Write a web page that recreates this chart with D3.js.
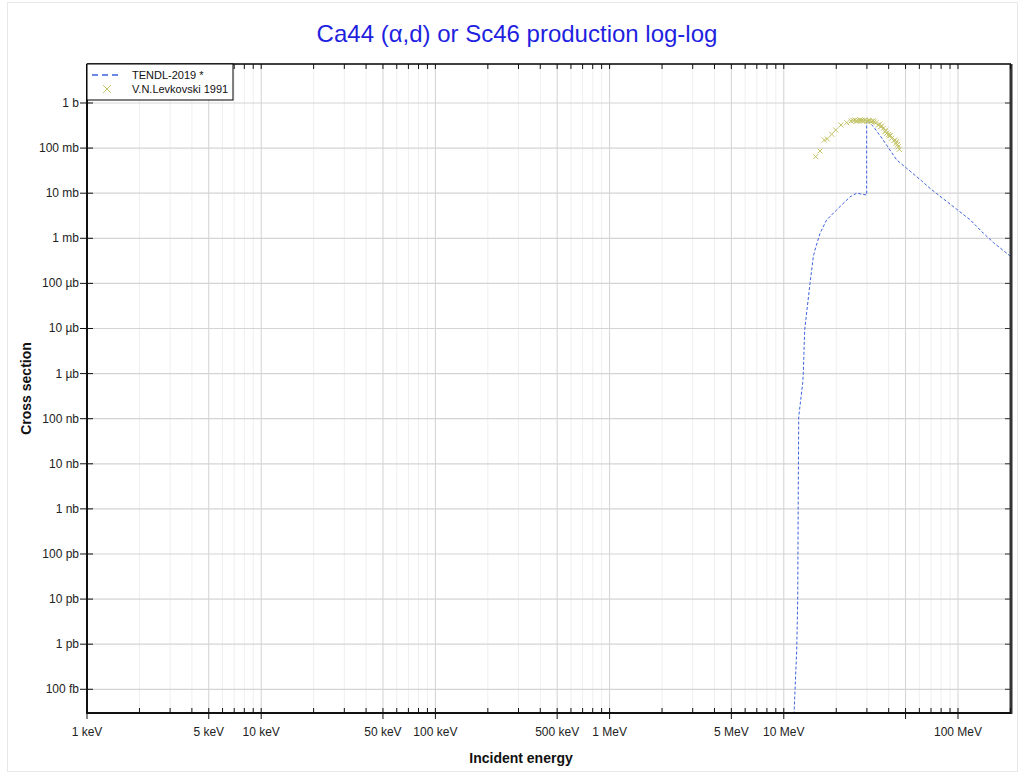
<!DOCTYPE html>
<html>
<head>
<meta charset="utf-8">
<script src="https://cdn.jsdelivr.net/npm/d3@7"></script>
<style>
  body { margin: 0; background: #fff; }
  svg { font-family: "Liberation Sans", Arial, sans-serif; }
  .tick-label { font-size: 12px; fill: #222; }
  .axis-label { font-size: 14px; font-weight: bold; fill: #111; }
</style>
</head>
<body>
<div id="chart"></div>
<script>
// TENDL-2019 evaluation: energy (MeV), cross section (b)
const tendlE  = [11.35, 11.45, 11.6, 11.86, 12.02, 12.1, 12.18, 12.84, 12.94, 13.18, 14.14, 14.77, 15.1, 16.14, 17.6, 20.1, 24.0, 26.2, 29.9, 29.9, 32.7, 37.2, 44.5, 50.8, 61.9, 69.1, 75.4, 98.3, 117, 139.8, 160, 201.5];
const tendlXS = [1e-15, 2.8e-14, 9.6e-14, 7.4e-13, 9.6e-12, 1.6e-9, 1.1e-7, 6.2e-7, 1.0e-6, 9.3e-6, 1.0e-4, 3.9e-4, 5.5e-4, 1.29e-3, 2.55e-3, 4.25e-3, 8.3e-3, 0.0100, 9.1e-3, 0.42, 0.30, 0.151, 0.0545, 0.0355, 0.0187, 0.0128, 0.0098, 4.4e-3, 2.6e-3, 1.3e-3, 8.0e-4, 3.9e-4];

// V.N.Levkovski 1991: energy (MeV), cross section (b)
const expE  = [15.24, 16.14, 17.08, 17.77, 18.84, 19.86, 21.3, 22.97, 24.3, 25.0, 25.6, 26.0, 26.4, 27.0, 27.4, 28.0, 28.4, 29.0, 29.3, 30.0, 30.6, 31.0, 31.7, 32.0, 32.6, 33.0, 33.8, 34.9, 35.5, 36.0, 36.5, 37.3, 38.1, 38.5, 39.0, 40.0, 40.3, 41.0, 41.6, 42.9, 43.5, 44.1, 44.5, 45.0, 45.4, 46.0];
const expXS = [0.0645, 0.086, 0.151, 0.159, 0.202, 0.252, 0.325, 0.366, 0.399, 0.410, 0.420, 0.395, 0.399, 0.405, 0.420, 0.415, 0.405, 0.400, 0.420, 0.395, 0.405, 0.410, 0.385, 0.390, 0.405, 0.380, 0.366, 0.325, 0.340, 0.298, 0.310, 0.275, 0.231, 0.250, 0.213, 0.200, 0.186, 0.190, 0.165, 0.146, 0.150, 0.128, 0.140, 0.120, 0.107, 0.094];

// Axis ticks (eV and b)
const xTickVals   = [1e3, 5e3, 1e4, 5e4, 1e5, 5e5, 1e6, 5e6, 1e7, 1e8];
const xTickLabels = ["1 keV", "5 keV", "10 keV", "50 keV", "100 keV", "500 keV", "1 MeV", "5 MeV", "10 MeV", "100 MeV"];
const yTickVals   = [1, 1e-1, 1e-2, 1e-3, 1e-4, 1e-5, 1e-6, 1e-7, 1e-8, 1e-9, 1e-10, 1e-11, 1e-12, 1e-13];
const yTickLabels = ["1 b", "100 mb", "10 mb", "1 mb", "100 µb", "10 µb", "1 µb", "100 nb", "10 nb", "1 nb", "100 pb", "10 pb", "1 pb", "100 fb"];

const W = 1020, H = 774;
const pL = 87, pR = 1011, pT = 64, pB = 713;

const svg = d3.select("#chart").append("svg")
    .attr("width", W).attr("height", H);

// faint figure frame
svg.append("rect")
    .attr("x", 7.5).attr("y", 2.5).attr("width", W - 10).attr("height", H - 5)
    .attr("fill", "none").attr("stroke", "#e8e8e8");

const x = d3.scaleLog().domain([1e3, 2.015e8]).range([pL, pR]);
const y = d3.scaleLog().domain([2.98e-14, 7.32]).range([pB, pT]);

// minor x values (1..9 per decade)
const minorX = [];
for (let d = 1e3; d < 2.1e8; d *= 10) {
    for (let m = 1; m <= 9; m++) {
        const v = d * m;
        if (v >= 1e3 && v <= 2.015e8) minorX.push(v);
    }
}
const mant = d => Math.round(d / Math.pow(10, Math.floor(Math.log10(d) + 1e-9)));
const isMajor = d => mant(d) === 1 || mant(d) === 5;

// x grid
svg.append("g").selectAll("line")
    .data(minorX)
    .join("line")
    .attr("x1", d => x(d)).attr("x2", d => x(d))
    .attr("y1", pT).attr("y2", pB)
    .attr("stroke", d => isMajor(d) ? "#d2d2d2" : "#efefef")
    .attr("stroke-width", 1);

// y grid
svg.append("g").selectAll("line")
    .data(yTickVals)
    .join("line")
    .attr("x1", pL).attr("x2", pR)
    .attr("y1", d => y(d)).attr("y2", d => y(d))
    .attr("stroke", "#d4d4d4")
    .attr("stroke-width", 1.2);

// clip
svg.append("clipPath").attr("id", "clip")
    .append("rect").attr("x", pL).attr("y", pT)
    .attr("width", pR - pL).attr("height", pB - pT);

// TENDL curve
const tendl = tendlE.map((e, i) => [e * 1e6, tendlXS[i]]);
svg.append("path")
    .datum(tendl)
    .attr("clip-path", "url(#clip)")
    .attr("fill", "none")
    .attr("stroke", "#3d62e0")
    .attr("stroke-width", 1)
    .attr("stroke-dasharray", "3,2")
    .attr("d", d3.line().x(d => x(d[0])).y(d => y(d[1])));

// experimental points (x markers)
const cross = (cx, cy, s) => `M${cx - s},${cy - s}L${cx + s},${cy + s}M${cx - s},${cy + s}L${cx + s},${cy - s}`;
svg.append("g").attr("clip-path", "url(#clip)")
    .selectAll("path")
    .data(expE.map((e, i) => [e * 1e6, expXS[i]]))
    .join("path")
    .attr("d", d => cross(x(d[0]), y(d[1]), 2.5))
    .attr("stroke", "#c4c468")
    .attr("stroke-width", 1)
    .attr("fill", "none");

// frame
svg.append("line").attr("x1", pL).attr("x2", pR).attr("y1", pT).attr("y2", pT)
    .attr("stroke", "#000").attr("stroke-width", 1.5);
svg.append("line").attr("x1", pR).attr("x2", pR).attr("y1", pT).attr("y2", pB + 1)
    .attr("stroke", "#333").attr("stroke-width", 3);
svg.append("line").attr("x1", pL).attr("x2", pL).attr("y1", pT).attr("y2", pB + 1)
    .attr("stroke", "#111").attr("stroke-width", 2);
svg.append("line").attr("x1", pL - 1).attr("x2", pR).attr("y1", pB).attr("y2", pB)
    .attr("stroke", "#111").attr("stroke-width", 2);

// x ticks: minor inward at bottom and top, 1 and 5 cross the bottom axis
svg.append("g").selectAll("line")
    .data(minorX)
    .join("line")
    .attr("x1", d => x(d)).attr("x2", d => x(d))
    .attr("y1", d => isMajor(d) ? pB + 6 : pB)
    .attr("y2", pB - 5)
    .attr("stroke", "#111").attr("stroke-width", 1);
svg.append("g").selectAll("line")
    .data(minorX)
    .join("line")
    .attr("x1", d => x(d)).attr("x2", d => x(d))
    .attr("y1", pT).attr("y2", pT + 5)
    .attr("stroke", "#111").attr("stroke-width", 1);

svg.append("g").selectAll("text")
    .data(xTickVals)
    .join("text")
    .attr("class", "tick-label")
    .attr("x", d => x(d)).attr("y", pB + 23)
    .attr("text-anchor", "middle")
    .text((d, i) => xTickLabels[i]);

// y ticks
svg.append("g").selectAll("line")
    .data(yTickVals)
    .join("line")
    .attr("x1", pL - 7).attr("x2", pL + 6)
    .attr("y1", d => y(d)).attr("y2", d => y(d))
    .attr("stroke", "#111").attr("stroke-width", 1);
svg.append("g").selectAll("line")
    .data(yTickVals)
    .join("line")
    .attr("x1", pR - 6).attr("x2", pR)
    .attr("y1", d => y(d)).attr("y2", d => y(d))
    .attr("stroke", "#333").attr("stroke-width", 1);
svg.append("g").selectAll("text")
    .data(yTickVals)
    .join("text")
    .attr("class", "tick-label")
    .attr("x", pL - 8).attr("y", d => y(d) + 4)
    .attr("text-anchor", "end")
    .text((d, i) => yTickLabels[i]);

// axis labels
svg.append("text").attr("class", "axis-label")
    .attr("x", 521).attr("y", 763)
    .attr("text-anchor", "middle")
    .text("Incident energy");
svg.append("text").attr("class", "axis-label")
    .attr("transform", `translate(31,${(pT + pB) / 2}) rotate(-90)`)
    .attr("text-anchor", "middle")
    .text("Cross section");

// title
svg.append("text")
    .attr("x", 517).attr("y", 42)
    .attr("text-anchor", "middle")
    .style("font-size", "24px")
    .style("fill", "#1f1fe0")
    .text("Ca44 (α,d) or Sc46 production log-log");

// legend
const lg = svg.append("g");
lg.append("rect").attr("x", pL).attr("y", pT).attr("width", 146).attr("height", 36)
    .attr("fill", "#fff").attr("stroke", "#000").attr("stroke-width", 1);
lg.append("line").attr("x1", 92).attr("x2", 118).attr("y1", 75).attr("y2", 75)
    .attr("stroke", "#3d62e0").attr("stroke-width", 1.5).attr("stroke-dasharray", "6,4");
lg.append("path").attr("d", cross(107, 89, 4))
    .attr("stroke", "#c4c468").attr("stroke-width", 1).attr("fill", "none");
lg.append("text").attr("x", 132).attr("y", 79).style("font-size", "11px").style("fill", "#111")
    .text("TENDL-2019 *");
lg.append("text").attr("x", 132).attr("y", 93).style("font-size", "11px").style("fill", "#111")
    .text("V.N.Levkovski 1991");
</script>
</body>
</html>
